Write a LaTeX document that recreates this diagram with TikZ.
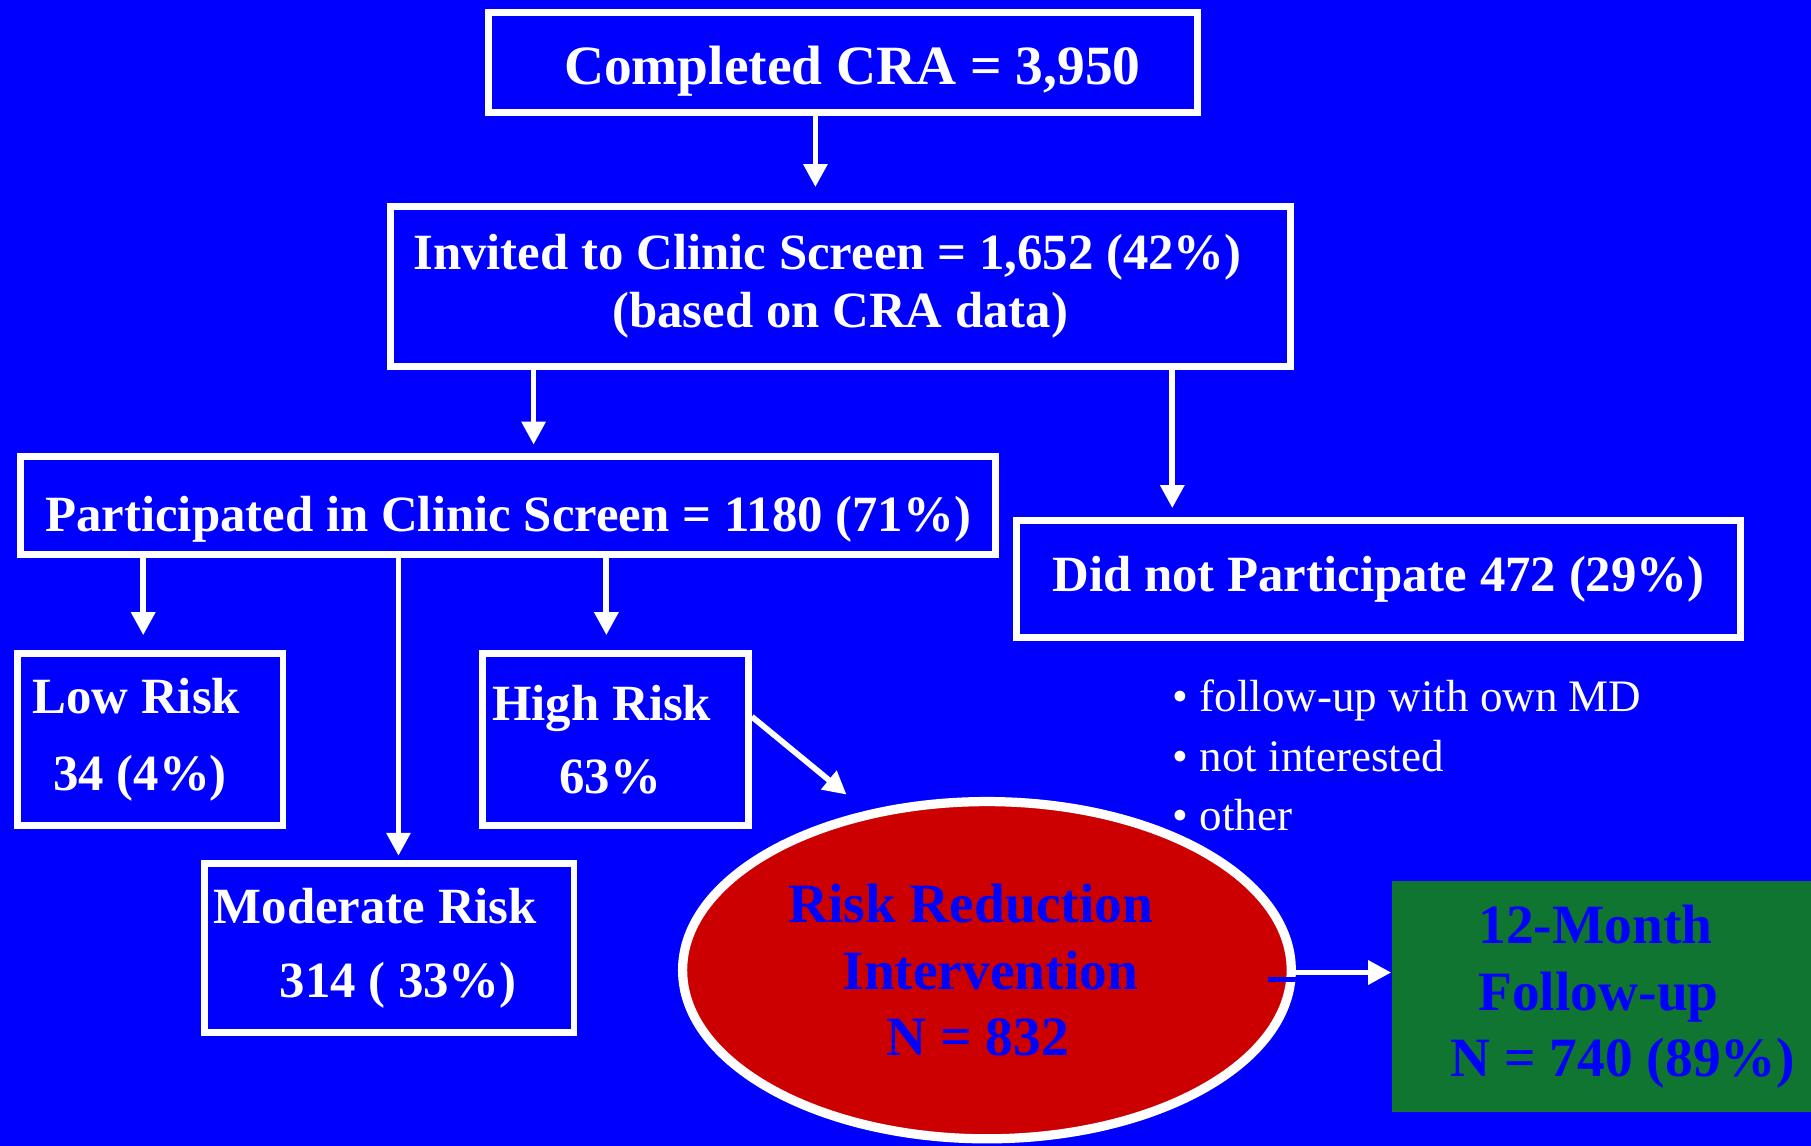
\documentclass[tikz,border=0pt]{standalone}
\usepackage{fontspec}
\setmainfont{Liberation Serif}
\usetikzlibrary{arrows.meta,positioning,shapes.geometric}
\definecolor{slideblue}{RGB}{0,0,255}
\definecolor{ellred}{RGB}{204,0,0}
\definecolor{fugreen}{RGB}{16,117,48}

\begin{document}
\begin{tikzpicture}[x=0.5pt,y=-0.5pt,>={Triangle[length=10pt,width=10pt]},
    box/.style={draw=white,line width=3pt,rectangle,inner sep=0pt,align=center,text=white,
      font=\bfseries\fontsize{22}{25}\selectfont},
    link/.style={->,draw=white,line width=2.5pt}]
\fill[slideblue] (0,0) rectangle (1568,992);
\useasboundingbox (0,0) rectangle (1568,992);
% boxes
\node[box,minimum width=307pt,minimum height=43pt,text height=24.5pt,text depth=5.2pt,
      font=\bfseries\fontsize{24}{28}\selectfont] at (730,54) (cra)
    {\hspace*{8pt}Completed CRA = 3,950};
\node[box,minimum width=389.5pt,minimum height=69pt] at (727.5,248) (invite)
    {Invited to Clinic Screen = 1,652 (42\%)\hspace*{11pt}\\(based on CRA data)};
\node[box,minimum width=422pt,minimum height=42.5pt,text height=27pt,text depth=4.5pt] at (440,437.5) (part)
    {Participated in Clinic Screen = 1180 (71\%)};
\node[box,minimum width=313.5pt,minimum height=50.5pt] at (1193.5,501.5) (dnp)
    {Did not Participate 472 (29\%)};
\node[box,minimum width=115pt,minimum height=74.5pt,align=left,
      font=\bfseries\fontsize{22}{33}\selectfont] at (130,640.5) (low)
    {Low Risk\hspace*{12pt}\\\hspace*{9pt}34 (4\%)};
\node[box,minimum width=160pt,minimum height=73pt,align=left,
      font=\bfseries\fontsize{22}{32}\selectfont] at (337,821) (mod)
    {Moderate Risk\hspace*{12pt}\\\hspace*{28.5pt}314 ( 33\%)};
\node[box,minimum width=115pt,minimum height=74.5pt,align=left,
      font=\bfseries\fontsize{22}{31.5}\selectfont] at (533,640.5) (high)
    {High Risk\hspace*{12pt}\\\hspace*{29pt}63\%};
\node[anchor=west,align=left,inner sep=0pt,text=white,font=\fontsize{19.5}{25.75}\selectfont] at (1015,654) (why)
    {• follow-up with own MD\\• not interested\\• other};
\node[ellipse,draw=white,line width=4pt,fill=ellred,minimum width=263.5pt,minimum height=146pt,inner sep=0pt,
      align=left,text=slideblue,font=\bfseries\fontsize{24}{28.75}\selectfont] at (854.5,840) (rri)
    {Risk Reduction\hspace*{14pt}\\\hspace*{23.5pt}Intervention\\\hspace*{42.5pt}N = 832};
\node[fill=fugreen,minimum width=181.5pt,minimum height=100pt,inner sep=0pt,align=left,
      text=slideblue,font=\bfseries\fontsize{24}{28.75}\selectfont] at (1386.5,863) (fu)
    {\hspace*{30.5pt}12-Month\\\hspace*{30.5pt}Follow-up\\\hspace*{18.5pt}N = 740 (89\%)};
\coordinate (tipR) at (733,688);
% arrows
\draw[link,shorten >=7pt] ([xshift=-12pt]cra.south) -- ([xshift=-12pt]cra.south |- invite.north);
\draw[link,shorten >=3.5pt] ([xshift=-132.75pt]invite.south) -- ([xshift=-132.75pt]invite.south |- part.north);
\draw[link,shorten >=4pt] ([xshift=143.75pt]invite.south) -- ([xshift=143.75pt]invite.south |- dnp.north);
\draw[link,shorten >=6.5pt] ([xshift=-158pt]part.south) -- ([xshift=-158pt]part.south |- low.north);
\draw[link,shorten >=2pt] ([xshift=-47.5pt]part.south) -- ([xshift=-47.5pt]part.south |- mod.north);
\draw[link,shorten >=6.5pt] ([xshift=42.5pt]part.south) -- ([xshift=42.5pt]part.south |- high.north);
\draw[link] ([yshift=10pt]high.east) -- (tipR);
\draw[slideblue,line width=2.5pt] ([shift={(-12pt,-4pt)}]rri.east) -- ++(15pt,0);
\draw[link] ([yshift=-1pt]rri.east) -- ([yshift=-1pt]rri.east -| fu.west);
\end{tikzpicture}
\end{document}
